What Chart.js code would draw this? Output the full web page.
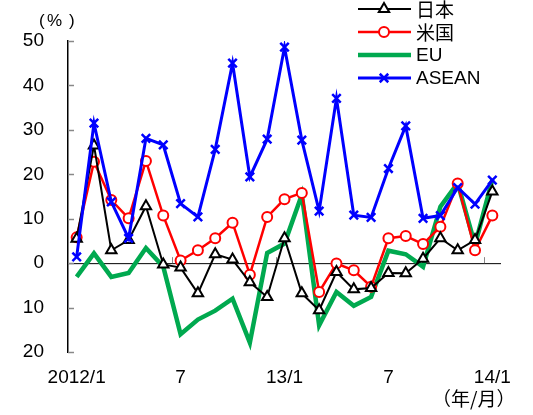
<!DOCTYPE html>
<html>
<head>
<meta charset="utf-8">
<script src="https://cdn.jsdelivr.net/npm/chart.js@4"></script>
<style>
  html, body { margin: 0; padding: 0; background: #fff; }
  #wrap { width: 533px; height: 415px; position: relative; }
</style>
</head>
<body>
<div id="wrap"><canvas id="c" width="533" height="415"></canvas></div>
<script>
// Monthly growth rates (%), 2012/1 .. 2014/1
const months = ['2012/1', '', '', '', '', '', '7', '', '', '', '', '', '13/1', '', '', '', '', '', '7', '', '', '', '', '', '14/1'];
const japan = [5.5, 26.5, 2.9, 5.2, 12.8, -0.3, -1.0, -6.8, 2.0, 0.8, -4.3, -7.6, 5.6, -6.8, -10.6, -2.0, -5.9, -5.6, -2.2, -2.3, 1.0, 5.6, 2.9, 5.2, 16.1];
const usa = [5.8, 22.8, 14.2, 10.1, 23.0, 10.7, 0.6, 2.9, 5.6, 9.1, -2.6, 10.4, 14.4, 15.8, -6.5, -0.1, -1.6, -5.3, 5.6, 6.1, 4.3, 8.2, 17.9, 2.9, 10.7];
const eu = [-3.1, 2.2, -3.1, -2.2, 3.4, -0.8, -16.0, -12.7, -10.7, -8.0, -17.9, 2.3, 4.4, 15.4, -14.0, -6.5, -9.6, -7.6, 2.8, 2.0, -0.8, 12.7, 18.0, 4.1, 18.8];
const asean = [1.4, 31.5, 13.8, 5.6, 28.1, 26.6, 13.4, 10.4, 25.6, 45.0, 19.4, 27.9, 48.6, 27.7, 11.7, 37.1, 10.8, 10.3, 21.3, 30.9, 10.1, 10.7, 17.0, 13.3, 18.7];
const yTicks = [50, 40, 30, 20, 10, 0, -10, -20];

const FONT = "'Liberation Sans', Arial, sans-serif";
const CJK = "'Noto Sans CJK JP', sans-serif";

// ---- Hand-drawn bits: zero line, inward ticks, legend, unit labels ----
const decor = {
  id: 'decor',
  beforeDatasetsDraw(chart) {
    const { ctx, chartArea: a, scales: { x, y } } = chart;
    const y0 = y.getPixelForValue(0);
    ctx.save();
    // zero line
    ctx.strokeStyle = '#000'; ctx.lineWidth = 1;
    ctx.beginPath(); ctx.moveTo(a.left, y0 + 0.5); ctx.lineTo(a.right, y0 + 0.5); ctx.stroke();
    // half-year ticks on the zero line
    ctx.strokeStyle = '#888';
    const step = x.getPixelForValue(1) - x.getPixelForValue(0);
    [5, 11, 17, 23].forEach((i) => {
      const px = Math.round(x.getPixelForValue(i) + step / 2) + 0.5;
      ctx.beginPath(); ctx.moveTo(px, y0 - 6); ctx.lineTo(px, y0); ctx.stroke();
    });
    // y ticks pointing into the plot
    ctx.lineWidth = 1.5;
    yTicks.forEach((v) => {
      const py = Math.round(y.getPixelForValue(v)) + 0.5;
      ctx.beginPath(); ctx.moveTo(a.left, py); ctx.lineTo(a.left + 6, py); ctx.stroke();
    });
    ctx.restore();
  },
  afterDraw(chart) {
    const { ctx } = chart;
    ctx.save();
    // legend
    const rows = [9, 32, 55, 78];
    chart.data.datasets.forEach((ds, i) => {
      const ly = rows[i];
      ctx.strokeStyle = ds.borderColor;
      ctx.lineWidth = ds.borderWidth;
      ctx.beginPath(); ctx.moveTo(358, ly); ctx.lineTo(411, ly); ctx.stroke();
      if (ds.pointRadius > 0) {
        ctx.fillStyle = ds.pointBackgroundColor;
        ctx.strokeStyle = ds.borderColor;
        ctx.lineWidth = ds.pointBorderWidth;
        Chart.helpers.drawPoint(ctx, {
          pointStyle: ds.pointStyle, radius: ds.pointRadius, borderWidth: ds.pointBorderWidth
        }, 384, ly);
      }
      ctx.fillStyle = '#000';
      ctx.textBaseline = 'middle';
      ctx.textAlign = 'left';
      ctx.font = /^[A-Z]+$/.test(ds.label) ? `19px ${FONT}` : `19px ${CJK}`;
      ctx.fillText(ds.label, 416, ly + 1);
    });
    // units
    ctx.fillStyle = '#000';
    ctx.textBaseline = 'middle';
    ctx.textAlign = 'left';
    ctx.font = `17px ${FONT}`;
    ctx.fillText('(', 39, 21);
    ctx.fillText('%', 47, 21);
    ctx.fillText(')', 69, 21);
    ctx.font = `19px ${CJK}`;
    ctx.fillText('（年/月）', 432, 399);
    ctx.restore();
  }
};

new Chart(document.getElementById('c'), {
  type: 'line',
  data: {
    labels: months,
    datasets: [
      { label: '日本', data: japan, borderColor: '#000', borderWidth: 2, pointStyle: 'triangle',
        pointRadius: 6, pointBorderWidth: 2, pointBackgroundColor: '#fff', order: 1 },
      { label: '米国', data: usa, borderColor: '#ff0000', borderWidth: 2.5, pointStyle: 'circle',
        pointRadius: 5, pointBorderWidth: 2, pointBackgroundColor: '#fff', order: 2 },
      { label: 'EU', data: eu, borderColor: '#00a94f', borderWidth: 4.5, pointRadius: 0,
        pointBorderWidth: 0, order: 3 },
      { label: 'ASEAN', data: asean, borderColor: '#0000ff', borderWidth: 3, pointStyle: 'crossRot',
        pointRadius: 6, pointBorderWidth: 2.5, pointBackgroundColor: '#0000ff', order: 0 },
    ]
  },
  options: {
    responsive: false,
    animation: false,
    devicePixelRatio: 1,
    layout: { padding: { top: 41, right: 32, left: 0, bottom: 0 } },
    plugins: { legend: { display: false }, tooltip: { enabled: false } },
    elements: { line: { tension: 0, borderJoinStyle: 'miter' } },
    scales: {
      x: {
        offset: true,
        grid: { display: false },
        border: { display: false },
        ticks: { autoSkip: false, maxRotation: 0, padding: 6, color: '#000', font: { family: FONT, size: 19 } },
        afterFit: (s) => { s.height = 63; }
      },
      y: {
        min: -20, max: 50,
        grid: { display: false },
        border: { display: true, color: '#000', width: 1.5 },
        ticks: { stepSize: 10, padding: 16, color: '#000', font: { family: FONT, size: 19 },
          callback: (v) => String(Math.abs(v)) },
        afterFit: (s) => { s.width = 68; }
      }
    }
  },
  plugins: [decor]
});
</script>
</body>
</html>
